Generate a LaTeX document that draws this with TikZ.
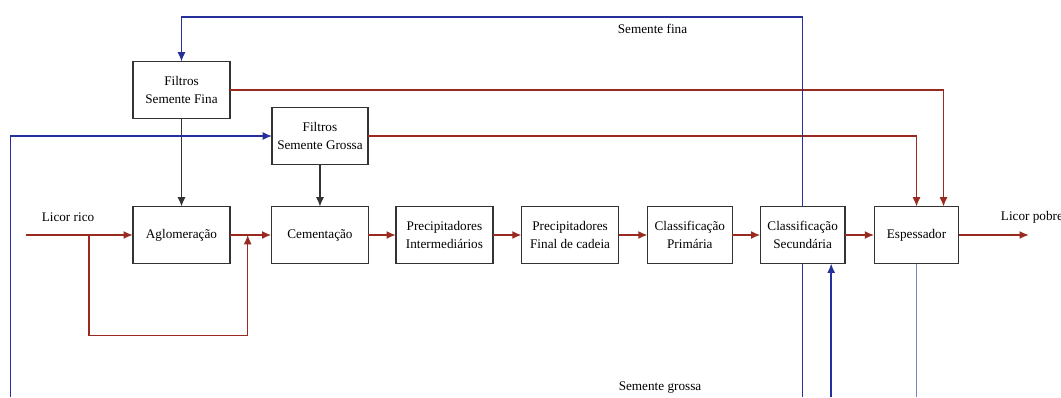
\documentclass[tikz,border=0pt]{standalone}
\usepackage{fontspec}
\setmainfont{Liberation Serif}
\usetikzlibrary{arrows.meta,positioning,calc}
\definecolor{ink}{HTML}{333333}
\definecolor{licor}{HTML}{982A20}
\definecolor{semente}{HTML}{25309A}
\definecolor{sementeclara}{HTML}{7D84C6}

\begin{document}
\begin{tikzpicture}[x=0.75pt,y=-0.75pt,
  font=\fontsize{9.9}{14}\selectfont,
  unit/.style={draw=ink,line width=0.9pt,fill=white,align=center,inner sep=2pt,
               outer sep=0pt,minimum width=72.75pt,minimum height=42.75pt},
  narrow/.style={unit,minimum width=63.4pt},
  lbl/.style={inner sep=0pt},
  tip/.style={-{Latex[length=7pt,width=6pt]}},
  liq/.style={tip,draw=licor,line width=1.4pt},
  liqfine/.style={tip,draw=licor,line width=1pt},
  seedline/.style={draw=semente,line width=1.1pt},
  seed/.style={seedline,tip},
  seedlight/.style={draw=sementeclara,line width=1.1pt},
  feed/.style={tip,draw=ink,line width=0.9pt}]

\useasboundingbox (0,0) rectangle (1061,397);

\node[unit] (aglo) at (181.5,235) {Aglomeração};
\node[unit,right=31.1pt of aglo] (cem) {Cementação};
\node[unit,right=20.6pt of cem] (inter) {Precipitadores\\Intermediários};
\node[unit,right=21.5pt of inter] (final) {Precipitadores\\Final de cadeia};
\node[narrow,right=21.75pt of final] (prim) {Classificação\\Primária};
\node[narrow,right=21.2pt of prim] (sec) {Classificação\\Secundária};
\node[narrow,right=22pt of sec] (esp) {Espessador};

\node[unit,above=66pt of aglo] (fina) {Filtros\\Semente Fina};
\node[unit,above=31.5pt of cem,minimum width=72pt] (grossa) {Filtros\\Semente Grossa};

\node[lbl] (rico) at (68,217.5) {Licor rico};
\node[lbl,anchor=west] (pobre) at (1000.7,217.7) {Licor pobre};
\node[lbl] (sfina) at (652.5,29.3) {Semente fina};
\node[lbl] (sgrossa) at (660,387.7) {Semente grossa};

\coordinate (entrada) at (25.7,235);
\coordinate (saida) at (1029,235);
\coordinate (desvio) at (89,235);
\coordinate (retorno) at (247.7,335.7);
\coordinate (ceu) at (0,17);
\coordinate (chao) at (0,397);
\coordinate (fundo) at (10.7,397);
\coordinate (retgrossa) at ($(sec.south)+(28.5,0)$);
\coordinate (finaesp) at ($(esp.north)+(27,0)$);

% licor
\draw[liq] (entrada) -- (aglo);
\draw[liq] (aglo) -- (cem);
\draw[liq] (cem) -- (inter);
\draw[liq] (inter) -- (final);
\draw[liq] (final) -- (prim);
\draw[liq] (prim) -- (sec);
\draw[liq] (sec) -- (esp);
\draw[liq] (esp) -- (saida);
\draw[liqfine] (desvio) |- (retorno) -- (retorno |- aglo.east);
\draw[liqfine] (fina.east) -| (finaesp);
\draw[liqfine] (grossa.east) -| (esp.north);

\draw[feed] (fina) -- (aglo);
\draw[feed] (grossa) -- (cem);

% semente
\draw[seed] (sec.north) |- (fina.north |- ceu) -- (fina.north);
\draw[seedline] (sec.south) -- (sec.south |- chao);
\draw[seed] (retgrossa |- chao) -- (retgrossa);
\draw[seedlight] (esp.south) -- (esp.south |- chao);
\draw[seed] (fundo) |- (grossa.west);
\end{tikzpicture}
\end{document}
